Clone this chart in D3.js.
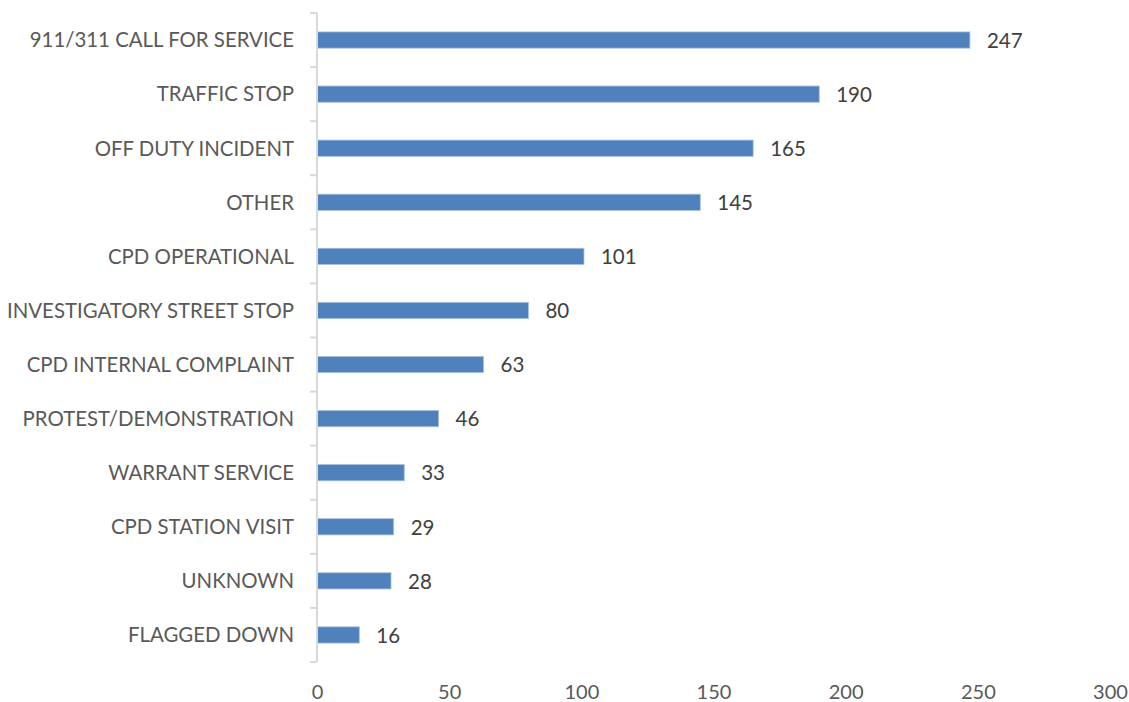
<!DOCTYPE html>
<html>
<head>
<meta charset="utf-8">
<script src="https://cdn.jsdelivr.net/npm/d3@7"></script>
<style>
  html, body { margin: 0; padding: 0; background: #fff; }
  svg { display: block; }
</style>
</head>
<body>
<svg id="chart" width="1129" height="702"></svg>
<script>
// Incident types, top to bottom, with their counts
const categories = [
  "911/311 CALL FOR SERVICE",
  "TRAFFIC STOP",
  "OFF DUTY INCIDENT",
  "OTHER",
  "CPD OPERATIONAL",
  "INVESTIGATORY STREET STOP",
  "CPD INTERNAL COMPLAINT",
  "PROTEST/DEMONSTRATION",
  "WARRANT SERVICE",
  "CPD STATION VISIT",
  "UNKNOWN",
  "FLAGGED DOWN"
];
const counts = [247, 190, 165, 145, 101, 80, 63, 46, 33, 29, 28, 16];
const xTicks = [0, 50, 100, 150, 200, 250, 300];

const svg = d3.select("#chart");
const margin = { top: 13, right: 19, bottom: 40, left: 317 };
const width = 1129 - margin.left - margin.right;
const height = 702 - margin.top - margin.bottom;

const x = d3.scaleLinear().domain([0, 300]).range([0, width]);
const y = d3.scaleBand().domain(categories).range([0, height]).paddingInner(0.7).paddingOuter(0.35);

const font = "Lato, 'Open Sans', sans-serif";
const g = svg.append("g").attr("transform", `translate(${margin.left},${margin.top})`);

// Bars
g.selectAll("rect.bar")
  .data(categories)
  .join("rect")
  .attr("class", "bar")
  .attr("x", 0)
  .attr("y", d => y(d))
  .attr("width", (d, i) => x(counts[i]))
  .attr("height", y.bandwidth())
  .attr("fill", "#4f81bd")
  .attr("stroke", "#a9c0dd")
  .attr("stroke-width", 0.8);

// Value labels
g.selectAll("text.val")
  .data(categories)
  .join("text")
  .attr("class", "val")
  .attr("x", (d, i) => x(counts[i]) + 17)
  .attr("y", d => y(d) + y.bandwidth() / 2)
  .attr("dy", "0.38em")
  .attr("font-family", font)
  .attr("font-size", 20.5)
  .attr("fill", "#404040")
  .text((d, i) => counts[i]);

// Category axis: vertical line with ticks at band boundaries
const bounds = d3.range(categories.length + 1).map(i => i * (height / categories.length));
const yAxis = g.append("g");
yAxis.append("line")
  .attr("x1", 0).attr("x2", 0)
  .attr("y1", 0).attr("y2", height)
  .attr("stroke", "#d9d9d9").attr("stroke-width", 2);
yAxis.selectAll("line.tick")
  .data(bounds)
  .join("line")
  .attr("class", "tick")
  .attr("x1", -7).attr("x2", 0)
  .attr("y1", d => d).attr("y2", d => d)
  .attr("stroke", "#d9d9d9").attr("stroke-width", 2);

// Category labels
g.selectAll("text.cat")
  .data(categories)
  .join("text")
  .attr("class", "cat")
  .attr("x", -23)
  .attr("y", d => y(d) + y.bandwidth() / 2)
  .attr("dy", "0.36em")
  .attr("text-anchor", "end")
  .attr("font-family", font)
  .attr("font-size", 20.4)
  .attr("fill", "#595959")
  .text(d => d);

// Value axis labels (no axis line)
const xAxis = d3.axisBottom(x).tickValues(xTicks).tickSize(0).tickPadding(0);
const xg = g.append("g").attr("transform", `translate(0,${height})`).call(xAxis);
xg.select(".domain").remove();
xg.selectAll("text")
  .attr("y", 37)
  .attr("dy", 0)
  .attr("font-family", font)
  .attr("font-size", 20)
  .attr("fill", "#595959");
</script>
</body>
</html>
